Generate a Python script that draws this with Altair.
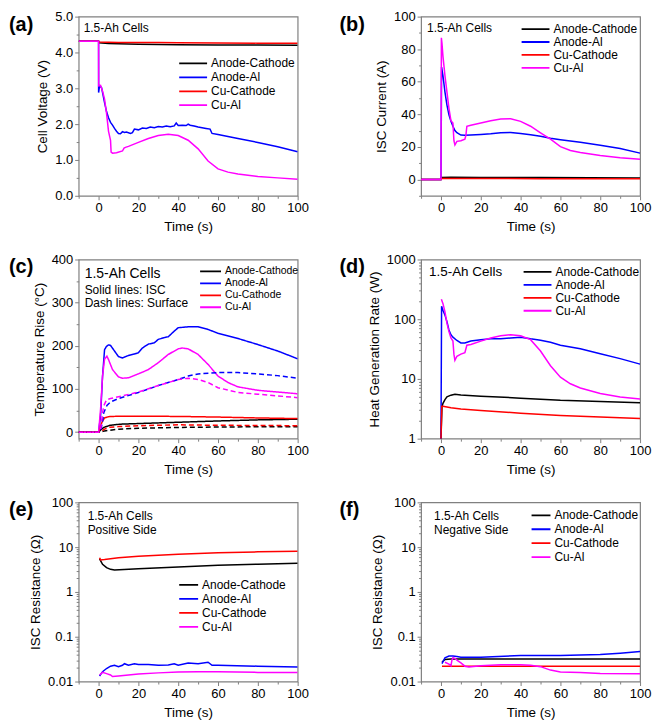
import altair as alt
import pandas as pd

FONT = "Liberation Sans"
NAMES = ["Anode-Cathode", "Anode-Al", "Cu-Cathode", "Cu-Al"]
COLORS = ["#000000", "#0000ff", "#ff0000", "#ff00ff"]

# ---------------- (a) Cell voltage (V) ----------------
a_t_ac = [-10, 0, 0.3, 5, 10, 20, 30, 40, 60, 80, 100]
a_v_ac = [4.31, 4.31, 4.27, 4.25, 4.24, 4.23, 4.22, 4.215, 4.21, 4.205, 4.2]
a_t_aal = [-10, 0, 0.02, 0.5, 1.5, 3, 4, 5, 6, 7, 8, 9, 10, 11, 12, 13, 14, 16, 17, 18, 20, 22, 24, 26, 28, 30,
           32, 34, 36, 38, 39, 40, 42, 44, 45, 46, 48, 50, 52, 54, 56, 57, 60, 70, 80, 90, 100]
a_v_aal = [4.31, 4.31, 2.88, 3.07, 3.02, 2.6, 2.35, 2.18, 2.05, 1.97, 1.88, 1.8, 1.74, 1.73, 1.79, 1.77, 1.78, 1.74,
           1.76, 1.86, 1.84, 1.89, 1.88, 1.92, 1.9, 1.93, 1.92, 1.95, 1.93, 1.95, 2.03, 1.96, 1.97, 1.96, 2.0, 1.97,
           1.95, 1.92, 1.9, 1.88, 1.86, 1.74, 1.71, 1.6, 1.49, 1.37, 1.23]
a_t_cc = [-10, 0, 0.3, 5, 10, 20, 30, 40, 60, 80, 100]
a_v_cc = [4.31, 4.31, 4.29, 4.285, 4.28, 4.28, 4.275, 4.27, 4.265, 4.26, 4.26]
a_t_cal = [-10, 0, 0.05, 1, 2, 3, 4, 5, 6, 6.3, 7, 9, 12, 12.8, 13.5, 15, 20, 25, 30, 35, 40, 45, 50, 55, 60, 65,
           70, 80, 90, 100]
a_v_cal = [4.31, 4.31, 3.07, 3.08, 2.92, 2.7, 2.3, 1.8, 1.55, 1.22, 1.19, 1.2, 1.25, 1.33, 1.35, 1.38, 1.49, 1.6,
           1.68, 1.72, 1.68, 1.55, 1.31, 0.97, 0.75, 0.66, 0.61, 0.54, 0.5, 0.46]

# ---------------- (b) ISC current (A) ----------------
b_t_ac = [-10, 0, 0.2, 5, 20, 50, 100]
b_v_ac = [0, 0, 1.2, 1.4, 1.3, 1.2, 1.0]
b_t_aal = [-10, 0, 0.3, 1, 2, 3, 4, 5, 6, 7, 8, 10, 12, 15, 20, 25, 30, 35, 40, 45, 50, 55, 60, 70, 80, 90, 100]
b_v_aal = [0, 0, 69, 63.7, 53.7, 45.7, 39.7, 35.7, 32.7, 30.1, 28.7, 27.3, 27.1, 27.3, 27.7, 28.1, 28.7, 28.9,
           28.3, 27.5, 26.5, 25.3, 24.4, 22.8, 21.0, 19.0, 16.2]
b_t_cc = [-10, 0, 0.2, 20, 50, 100]
b_v_cc = [0, 0, 0.6, 0.6, 0.5, 0.5]
b_t_cal = [-10, 0, 0.2, 0.5, 1, 2, 3, 4, 5, 6, 6.5, 7, 8, 10, 12, 12.5, 13, 15, 20, 25, 30, 35, 40, 45, 50, 55,
           60, 65, 70, 80, 90, 100]
b_v_cal = [0, 0, 87, 83.6, 75.6, 63.7, 53.7, 43.7, 36.1, 34.7, 23.8, 21.2, 23.4, 23.8, 24.8, 27, 32.7, 33.3, 34.7,
           36.1, 37.1, 37.3, 35.7, 32.7, 28.7, 24.8, 20.2, 17.8, 16.6, 14.8, 13.4, 12.4]

# ---------------- (c) Temperature rise (°C): ISC (solid) and surface (dash) ----------------
c_t_ac = [-10, 0, 1, 2.6, 5.8, 10.7, 20, 40, 60, 80, 100]
c_v_ac = [0, 0, 5, 11, 16, 18.5, 20, 23, 26, 28.5, 30]
c_t_aal = [-10, 0, 1, 2, 3, 4, 5, 6, 8, 10, 12, 14, 16, 18, 20, 22, 25, 28, 30, 33, 35, 38, 40, 45, 50, 55, 60,
           70, 80, 90, 100]
c_v_aal = [0, 0, 38, 130, 191, 199, 202, 201, 188, 175, 172, 176, 179, 181, 184, 195, 204, 207, 215, 219, 221,
           234, 242, 244, 244, 238, 229, 217, 203, 188, 170]
c_t_cc = [-10, 0, 1, 2, 3, 5, 10, 20, 40, 60, 80, 100]
c_v_cc = [0, 0, 15, 26, 33, 36, 37, 37, 36.5, 35, 33, 31.5]
c_t_cal = [-10, 0, 1, 2, 3, 4.2, 5, 7, 10, 12, 15, 20, 25, 30, 35, 40, 42, 45, 50, 55, 60, 65, 70, 80, 90, 100]
c_v_cal = [0, 0, 53, 130, 169, 176, 168, 145, 128, 125, 126, 135, 145, 161, 180, 193, 195, 193, 180, 157, 130,
           115, 105, 97, 93, 89]
cs_t_ac = [-10, 0, 1, 3, 10, 20, 40, 60, 80, 100]
cs_v_ac = [0, 0, 0.5, 3, 7, 9, 11, 12, 12.5, 12.5]
cs_t_aal = [-10, 0, 1, 2, 2.6, 4.2, 6, 10, 20, 30, 40, 45, 50, 60, 70, 80, 90, 100]
cs_v_aal = [0, 0, 2, 25, 45, 62, 70, 78, 92, 108, 122, 130, 135, 138, 138, 135, 131, 125]
cs_t_cc = [-10, 0, 1, 3, 5, 10, 20, 40, 60, 80, 100]
cs_v_cc = [0, 0, 1, 7, 11, 13, 15, 17, 16, 15.5, 15]
cs_t_cal = [-10, 0, 1, 2, 2.6, 4, 6, 10, 20, 30, 40, 45, 50, 55, 60, 70, 80, 90, 100]
cs_v_cal = [0, 0, 5, 45, 61, 75, 78, 82, 93, 108, 122, 125, 122, 115, 103, 92, 88, 84, 80]

# ---------------- (d) Heat generation rate (W) ----------------
d_t_ac = [0, 0.5, 1, 2, 3, 5, 7, 10, 20, 40, 60, 80, 100]
d_v_ac = [1, 3.4, 3.9, 4.5, 5.0, 5.35, 5.55, 5.4, 5.14, 4.77, 4.4, 4.2, 4.0]
d_t_aal = [0, 0.3, 1, 2, 3, 4, 5, 6, 8, 10, 12, 15, 20, 25, 30, 35, 40, 45, 50, 55, 60, 70, 80, 90, 100]
d_v_aal = [1, 165, 141, 117, 91, 66, 55, 50, 44, 40, 40, 43, 45.5, 47, 47, 48.5, 50, 47, 44.6, 41, 36.7, 32,
           26.5, 21.9, 17.7]
d_t_cc = [0, 0.4, 1, 5, 10, 20, 40, 60, 80, 100]
d_v_cc = [1, 3.5, 3.5, 3.3, 3.15, 2.95, 2.67, 2.45, 2.3, 2.18]
d_t_cal = [0.2, 1, 2, 3, 4, 5, 6, 6.5, 7, 8, 10, 12, 13, 15, 20, 25, 30, 35, 40, 45, 50, 55, 60, 65, 70, 80, 90,
           100]
d_v_cal = [215, 182, 133, 86, 62, 48.5, 43, 26, 20.5, 24, 26, 27.5, 36.7, 37.8, 43, 48.5, 52.7, 55, 52.7, 45.5,
           29.3, 16.6, 10.7, 8.3, 7.07, 5.7, 5.0, 4.6]

# ---------------- (e) ISC resistance, positive side (Ohm) ----------------
e_t_ac = [0.5, 2, 4, 6, 8, 20, 40, 60, 80, 100]
e_v_ac = [5.5, 4.15, 3.5, 3.2, 3.1, 3.3, 3.6, 3.95, 4.15, 4.37]
e_t_aal = [0.5, 2, 4, 6, 8, 10, 12, 13, 15, 18, 20, 25, 30, 35, 38, 40, 45, 50, 55, 57, 60, 80, 100]
e_v_aal = [0.0133, 0.0166, 0.0195, 0.022, 0.0231, 0.0213, 0.0231, 0.025, 0.0231, 0.025, 0.024, 0.024, 0.0231,
           0.0235, 0.025, 0.0231, 0.026, 0.025, 0.027, 0.023, 0.023, 0.022, 0.021]
e_t_cc = [0.5, 1, 3, 10, 20, 40, 60, 80, 100]
e_v_cc = [5.8, 5.2, 5.3, 5.8, 6.3, 6.9, 7.5, 7.85, 8.1]
e_t_cal = [0.5, 2, 4, 6, 7, 10, 20, 30, 40, 50, 60, 80, 100]
e_v_cal = [0.014, 0.016, 0.015, 0.014, 0.0129, 0.0133, 0.0148, 0.0156, 0.0163, 0.0166, 0.0165, 0.016, 0.016]

# ---------------- (f) ISC resistance, negative side (Ohm) ----------------
f_t_ac = [0.5, 2, 5, 10, 100]
f_v_ac = [0.027, 0.031, 0.032, 0.032, 0.032]
f_t_aal = [0.5, 2, 4, 6, 8, 10, 20, 40, 60, 80, 90, 100]
f_v_aal = [0.025, 0.034, 0.037, 0.037, 0.036, 0.035, 0.035, 0.038, 0.038, 0.040, 0.043, 0.047]
f_t_cc = [0.5, 100]
f_v_cc = [0.022, 0.022]
f_t_cal = [2, 4, 5, 5.5, 6, 7, 8, 10, 12, 14, 20, 30, 40, 45, 50, 55, 60, 70, 80, 100]
f_v_cal = [0.027, 0.0245, 0.0225, 0.03, 0.034, 0.033, 0.030, 0.026, 0.022, 0.021, 0.0225, 0.0236, 0.0236, 0.023,
           0.0215, 0.018, 0.0163, 0.016, 0.0152, 0.015]

X_VALUES = [-10, 0, 10, 20, 30, 40, 50, 60, 70, 80, 90, 100]
W, H = 220, 180


def frame(series, kind="ISC"):
    rows = []
    for name, ts, vs in series:
        for t, v in zip(ts, vs):
            rows.append({"t": t, "v": v, "s": name, "k": kind, "g": name + kind})
    return rows


def major_test(step):
    return f"abs(datum.value / {step} - round(datum.value / {step})) < 0.001"


LOG_TEST = "abs(log(datum.value) / LN10 - round(log(datum.value) / LN10)) < 0.01"


def lin_axis(values, step, fmt):
    t = major_test(step)
    return alt.Axis(values=values, format=fmt, labelExpr=f"{t} ? datum.label : ''",
                    tickSize={"condition": {"test": t, "value": 4}, "value": 2.5})


def log_axis(lo_exp, hi_exp):
    vals = []
    for e in range(lo_exp, hi_exp):
        for m in range(1, 10):
            vals.append(round(m * 10 ** e, 6))
    vals.append(round(10 ** hi_exp, 6))
    return alt.Axis(values=vals, format="~g", labelExpr=f"{LOG_TEST} ? datum.label : ''",
                    tickSize={"condition": {"test": LOG_TEST, "value": 4}, "value": 2.5})


ONE = pd.DataFrame({"a": [0]})


def panel(rows, label, lab_dx, ytitle, yscale, yaxis, leg, notes, dash=False):
    df = pd.DataFrame(rows)
    enc = dict(
        x=alt.X("t:Q", title="Time (s)", scale=alt.Scale(domain=[-10, 100], nice=False, zero=False),
                axis=lin_axis(X_VALUES, 20, "d")),
        y=alt.Y("v:Q", title=ytitle, scale=yscale, axis=yaxis),
        color=alt.Color("s:N", scale=alt.Scale(domain=NAMES, range=COLORS), sort=NAMES,
                        legend=alt.Legend(title=None, orient="none", legendX=leg[0], legendY=leg[1],
                                          symbolType="stroke", symbolSize=leg[2] ** 2, symbolStrokeWidth=1.8,
                                          labelFontSize=leg[4], labelFont=FONT, labelColor="black",
                                          rowPadding=0, padding=0, labelOffset=3, clipHeight=leg[3])),
        detail="g:N",
    )
    if dash:
        enc["strokeDash"] = alt.StrokeDash("k:N", scale=alt.Scale(domain=["ISC", "Surface"],
                                                                  range=[[1, 0], [5, 3]]), legend=None)
    lines = alt.Chart(df).mark_line(strokeWidth=1.5, clip=True).encode(**enc)
    layers = [lines]
    for txt, dx, dy, fs in notes:
        layers.append(alt.Chart(ONE).mark_text(text=txt, align="left", baseline="middle", fontSize=fs,
                                               font=FONT, color="black")
                      .encode(x=alt.value(dx), y=alt.value(dy)))
    layers.append(alt.Chart(ONE).mark_text(text=label, align="left", baseline="top", fontSize=20,
                                           fontWeight="bold", font=FONT, color="black")
                  .encode(x=alt.value(lab_dx), y=alt.value(-2)))
    return alt.layer(*layers).properties(width=W, height=H)


pa = panel(frame([(NAMES[0], a_t_ac, a_v_ac), (NAMES[1], a_t_aal, a_v_aal), (NAMES[2], a_t_cc, a_v_cc),
                  (NAMES[3], a_t_cal, a_v_cal)]),
           "(a)", -70, "Cell Voltage (V)",
           alt.Scale(domain=[0, 5], nice=False),
           lin_axis([x / 2 for x in range(0, 11)], 1, ".1f"),
           (100, 40, 28, 14, 12), [("1.5-Ah Cells", 5, 11, 12)])

pb = panel(frame([(NAMES[0], b_t_ac, b_v_ac), (NAMES[1], b_t_aal, b_v_aal), (NAMES[2], b_t_cc, b_v_cc),
                  (NAMES[3], b_t_cal, b_v_cal)]),
           "(b)", -82, "ISC Current (A)",
           alt.Scale(domain=[-10, 100], nice=False, zero=False),
           lin_axis(list(range(-10, 101, 10)), 20, "d"),
           (100, 6, 28, 13, 12), [("1.5-Ah Cells", 6, 11, 12)])

pc = panel(frame([(NAMES[0], c_t_ac, c_v_ac), (NAMES[1], c_t_aal, c_v_aal), (NAMES[2], c_t_cc, c_v_cc),
                  (NAMES[3], c_t_cal, c_v_cal)], "ISC")
           + frame([(NAMES[0], cs_t_ac, cs_v_ac), (NAMES[1], cs_t_aal, cs_v_aal), (NAMES[2], cs_t_cc, cs_v_cc),
                    (NAMES[3], cs_t_cal, cs_v_cal)], "Surface"),
           "(c)", -70, "Temperature Rise (°C)",
           alt.Scale(domain=[-15, 400], nice=False, zero=False),
           lin_axis(list(range(0, 401, 50)), 100, "d"),
           (121, 6, 21, 12, 10.5),
           [("1.5-Ah Cells", 6, 15, 14), ("Solid lines: ISC", 6, 31, 12), ("Dash lines: Surface", 6, 44, 12)],
           dash=True)

pd_ = panel(frame([(NAMES[0], d_t_ac, d_v_ac), (NAMES[1], d_t_aal, d_v_aal), (NAMES[2], d_t_cc, d_v_cc),
                   (NAMES[3], d_t_cal, d_v_cal)]),
            "(d)", -82, "Heat Generation Rate (W)",
            alt.Scale(type="log", domain=[1, 1000], nice=False),
            log_axis(0, 3),
            (102, 6, 28, 13, 12), [("1.5-Ah Cells", 8, 13, 13.5)])

pe = panel(frame([(NAMES[0], e_t_ac, e_v_ac), (NAMES[1], e_t_aal, e_v_aal), (NAMES[2], e_t_cc, e_v_cc),
                  (NAMES[3], e_t_cal, e_v_cal)]),
           "(e)", -70, "ISC Resistance (Ω)",
           alt.Scale(type="log", domain=[0.01, 100], nice=False),
           log_axis(-2, 2),
           (100, 76, 19, 14, 12), [("1.5-Ah Cells", 9, 14, 12), ("Positive Side", 9, 28, 12)])

pf = panel(frame([(NAMES[0], f_t_ac, f_v_ac), (NAMES[1], f_t_aal, f_v_aal), (NAMES[2], f_t_cc, f_v_cc),
                  (NAMES[3], f_t_cal, f_v_cal)]),
           "(f)", -82, "ISC Resistance (Ω)",
           alt.Scale(type="log", domain=[0.01, 100], nice=False),
           log_axis(-2, 2),
           (110, 6, 19, 14, 12), [("1.5-Ah Cells", 13, 14, 12), ("Negative Side", 13, 28, 12)])


def row(l, r):
    return (alt.hconcat(l, r, spacing=29)
            .resolve_scale(color="independent", strokeDash="independent")
            .resolve_legend(color="independent", strokeDash="independent"))


chart = (alt.vconcat(row(pa, pb), row(pc, pd_), row(pe, pf), spacing=18)
         .resolve_scale(color="independent", strokeDash="independent")
         .resolve_legend(color="independent", strokeDash="independent")
         .properties(padding=0, background="white")
         .configure_view(stroke="#808080", strokeWidth=1.2)
         .configure_axis(domain=False, grid=False, tickColor="#808080", tickWidth=1,
                         labelColor="black", titleColor="black", labelFont=FONT, titleFont=FONT,
                         labelFontSize=13, titleFontSize=13.5, titleFontWeight="normal",
                         labelPadding=2, titlePadding=5, labelFlush=False, labelOverlap=False))

chart.save("out.html", embed_options={"renderer": "svg", "actions": False})
